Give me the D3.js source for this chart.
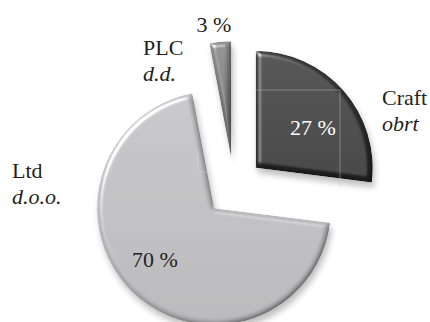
<!DOCTYPE html>
<html>
<head>
<meta charset="utf-8">
<script src="https://cdn.jsdelivr.net/npm/d3@7"></script>
<style>
  body { margin: 0; background: #fff; }
  svg { display: block; }
  text { font-family: "Liberation Serif", "Times New Roman", serif; font-size: 22px; fill: #231f20; }
</style>
</head>
<body>
<div id="chart"></div>
<script>
// data
const categories = ["Craft", "Ltd", "PLC"];
const localNames = ["obrt", "d.o.o.", "d.d."];
const shares = [27, 70, 3];

// look
const baseColors = [["#3e3e3e", "#232323"], ["#c2c2c4", "#b2b2b4"], ["#8c8c8c", "#5c5c5c"]];
const labelLayout = [
    { pct: [313, 135], name: [382, 105] },
    { pct: [155, 267], name: [12, 178] },
    { pct: [214, 32], name: [143, 55] }
];

const width = 430, height = 322;
const cx = 234, cy = 187, radius = 117, explode = 29;

const svg = d3.select("#chart").append("svg")
    .attr("width", width)
    .attr("height", height);

const defs = svg.append("defs");

defs.append("filter").attr("id", "shadow")
    .attr("x", "-20%").attr("y", "-20%").attr("width", "140%").attr("height", "140%")
    .append("feGaussianBlur").attr("stdDeviation", 3);

// bevel: blurred alpha used as a height map, lit from the top left
const bevel = defs.append("filter").attr("id", "bevel")
    .attr("x", "-5%").attr("y", "-5%").attr("width", "110%").attr("height", "110%");
bevel.append("feGaussianBlur")
    .attr("in", "SourceAlpha").attr("stdDeviation", 2.6).attr("result", "b");
bevel.append("feDiffuseLighting")
    .attr("in", "b").attr("surfaceScale", 3).attr("diffuseConstant", 1.155)
    .attr("lighting-color", "#fff").attr("result", "diff")
    .append("feDistantLight").attr("azimuth", 225).attr("elevation", 60);
bevel.append("feComposite")
    .attr("in", "SourceGraphic").attr("in2", "diff")
    .attr("operator", "arithmetic").attr("k1", 1).attr("result", "lit");
bevel.append("feSpecularLighting")
    .attr("in", "b").attr("surfaceScale", 3).attr("specularConstant", 0.8)
    .attr("specularExponent", 35).attr("lighting-color", "#fff").attr("result", "spec")
    .append("feDistantLight").attr("azimuth", 225).attr("elevation", 45);
bevel.append("feComposite")
    .attr("in", "spec").attr("in2", "SourceAlpha").attr("operator", "in").attr("result", "spec2");
bevel.append("feComposite")
    .attr("in", "lit").attr("in2", "spec2")
    .attr("operator", "arithmetic").attr("k2", 1).attr("k3", 1).attr("result", "sum");
bevel.append("feComposite")
    .attr("in", "sum").attr("in2", "SourceAlpha").attr("operator", "in");

const pie = d3.pie().sort(null).value(d => d);
const arc = d3.arc().innerRadius(0).outerRadius(radius);
const slices = pie(shares);

slices.forEach((d, i) => {
    const g = defs.append("linearGradient").attr("id", "grad" + i)
        .attr("x1", 0).attr("y1", 0).attr("x2", 0).attr("y2", 1);
    g.append("stop").attr("offset", "0%").attr("stop-color", baseColors[i][0]);
    g.append("stop").attr("offset", "100%").attr("stop-color", baseColors[i][1]);
});

// offset each slice outward along its middle angle
function shift(d) {
    const a = (d.startAngle + d.endAngle) / 2;
    return [cx + explode * Math.sin(a), cy - explode * Math.cos(a)];
}

const sliceG = svg.selectAll("g.slice")
    .data(slices)
    .enter().append("g")
    .attr("class", "slice")
    .attr("transform", d => `translate(${shift(d)})`);

// drop shadow
sliceG.append("path")
    .attr("d", arc)
    .attr("transform", "translate(2,5)")
    .attr("fill", "#000")
    .attr("opacity", 0.25)
    .attr("filter", "url(#shadow)");

// body with bevel
sliceG.append("path")
    .attr("d", arc)
    .attr("fill", (d, i) => `url(#grad${i})`)
    .attr("filter", "url(#bevel)");

// faint text-box edges left over on the slices
svg.append("path")
    .attr("d", "M255,90H340V186")
    .attr("fill", "none")
    .attr("stroke", "#c8c8c8")
    .attr("stroke-width", 0.8)
    .attr("opacity", 0.55);
svg.append("path")
    .attr("d", "M198,150V172H212")
    .attr("fill", "none")
    .attr("stroke", "#d8d8d8")
    .attr("stroke-width", 0.8)
    .attr("opacity", 0.6);

// percent labels
svg.selectAll("text.pct")
    .data(slices)
    .enter().append("text")
    .attr("class", "pct")
    .attr("x", (d, i) => labelLayout[i].pct[0])
    .attr("y", (d, i) => labelLayout[i].pct[1])
    .attr("text-anchor", "middle")
    .style("fill", (d, i) => i === 0 ? "#fff" : "#231f20")
    .text(d => d.data + " %");

// category labels
const names = svg.selectAll("text.name")
    .data(categories)
    .enter().append("text")
    .attr("class", "name")
    .attr("x", (d, i) => labelLayout[i].name[0])
    .attr("y", (d, i) => labelLayout[i].name[1]);

names.append("tspan").text(d => d);
names.append("tspan")
    .attr("x", (d, i) => labelLayout[i].name[0])
    .attr("dy", 26)
    .style("font-style", "italic")
    .text((d, i) => localNames[i]);
</script>
</body>
</html>
